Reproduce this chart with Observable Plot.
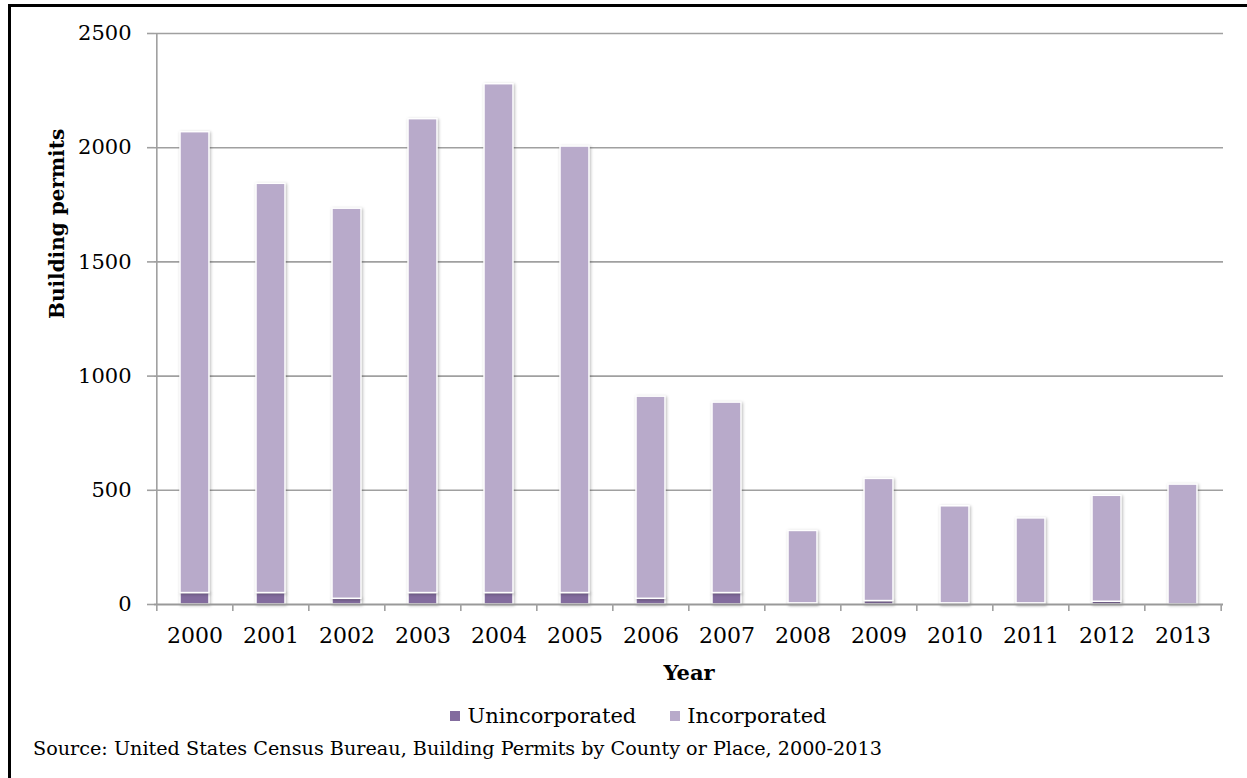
<!DOCTYPE html>
<html>
<head>
<meta charset="utf-8">
<script src="https://cdn.jsdelivr.net/npm/d3@7"></script>
<script src="https://cdn.jsdelivr.net/npm/@observablehq/plot@0.6"></script>
<style>
  html, body { margin: 0; padding: 0; background: #fff; overflow: hidden; }
  body { width: 1247px; height: 778px; position: relative; font-family: "DejaVu Serif", serif; }
  #frame { position: absolute; left: 8px; top: 4px; width: 1260px; height: 800px; border: 3px solid #000; box-sizing: border-box; }
  #chart { position: absolute; left: 0; top: 0; }
  #chart svg g[aria-label="bar"] rect { filter: drop-shadow(1px 1px 1.5px rgba(0,0,0,0.28)); }
  #legend { position: absolute; top: 704px; left: 0; width: 1247px; display: flex; justify-content: center; padding-left: 30px; box-sizing: border-box; font-size: 21px; color: #000; }
  .item { display: flex; align-items: center; margin: 0 17px; }
  .sw { width: 10px; height: 10px; margin-right: 7px; }
  #source { position: absolute; left: 33px; top: 737px; font-size: 19.2px; color: #000; white-space: nowrap; }
</style>
</head>
<body>
<div id="frame"></div>
<div id="chart"></div>
<div id="legend"></div>
<div id="source">Source: United States Census Bureau, Building Permits by County or Place, 2000-2013</div>
<script>
const years = ["2000","2001","2002","2003","2004","2005","2006","2007","2008","2009","2010","2011","2012","2013"];
const unincorporated = [50, 50, 25, 50, 50, 50, 25, 50, 5, 15, 5, 5, 12, 0];
const incorporated = [2018, 1792, 1708, 2075, 2228, 1955, 885, 834, 317, 535, 425, 372, 464, 525];
const seriesNames = ["Unincorporated", "Incorporated"];
const seriesColors = ["#836c9e", "#b8aaca"];
const yTicks = [0, 500, 1000, 1500, 2000, 2500];

const data = [];
years.forEach((y, i) => {
  data.push({year: y, series: "Unincorporated", value: unincorporated[i]});
  data.push({year: y, series: "Incorporated", value: incorporated[i]});
});

const W = 1247, H = 700, mL = 154, mR = 24, mT = 33, mB = 96;
const step = (W - mL - mR) / years.length;
const gray = "#a0a0a0";

const plot = Plot.plot({
  width: W, height: H,
  marginLeft: mL, marginRight: mR, marginTop: mT, marginBottom: mB,
  style: {fontFamily: "DejaVu Serif, serif", color: "#000", background: "transparent"},
  x: {domain: years, paddingInner: 0.62, paddingOuter: 0.31, label: null},
  y: {domain: [0, 2500], label: null},
  color: {domain: seriesNames, range: seriesColors},
  marks: [
    Plot.gridY(yTicks.slice(1), {stroke: gray, strokeOpacity: 1, strokeWidth: 1.6}),
    Plot.axisY(yTicks, {tickSize: 7, tickPadding: 16, stroke: gray, strokeWidth: 1.6, fontSize: 21, label: null, tickFormat: d => String(d)}),
    Plot.ruleX([years[0]], {dx: -step/2, y1: 0, y2: 2500, stroke: gray, strokeWidth: 1.6}),
    Plot.barY(data, Plot.stackY({order: seriesNames, x: "year", y: "value", fill: "series", stroke: "#fff", strokeWidth: 1.5})),
    Plot.ruleY([0], {stroke: "#999", strokeWidth: 2}),
    Plot.axisX(years, {tickSize: 7, dx: -step/2, stroke: gray, strokeWidth: 1.6, tickFormat: () => "", label: null}),
    Plot.axisX([years[years.length-1]], {tickSize: 7, dx: step/2, stroke: gray, strokeWidth: 1.6, tickFormat: () => "", label: null}),
    Plot.axisX(years, {tickSize: 0, tickPadding: 23, fontSize: 22, label: null}),
    Plot.text(["Year"], {frameAnchor: "bottom", dy: 75, fontSize: 21, fontWeight: "bold", fill: "#000"}),
    Plot.text(["Building permits"], {frameAnchor: "left", dx: -97, rotate: -90, fontSize: 20, fontWeight: "bold", fill: "#000"})
  ]
});
document.getElementById("chart").appendChild(plot);

const legend = document.getElementById("legend");
seriesNames.forEach((name, i) => {
  const item = document.createElement("div");
  item.className = "item";
  const sw = document.createElement("div");
  sw.className = "sw";
  sw.style.background = seriesColors[i];
  const t = document.createElement("span");
  t.textContent = name;
  item.appendChild(sw);
  item.appendChild(t);
  legend.appendChild(item);
});
</script>
</body>
</html>
